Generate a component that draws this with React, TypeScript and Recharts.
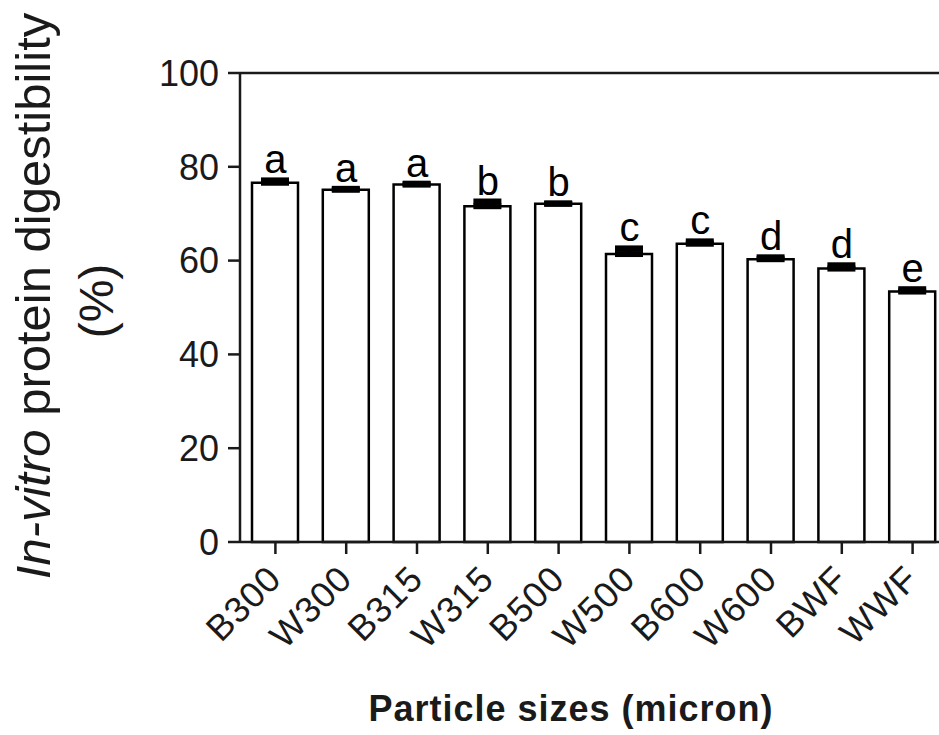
import React from 'react';
import { ComposedChart, Bar, Line, XAxis, YAxis, ErrorBar, LabelList, ReferenceLine, Label } from 'recharts';

const categories = ['B300', 'W300', 'B315', 'W315', 'B500', 'W500', 'B600', 'W600', 'BWF', 'WWF'];
const means = [76.6, 75.1, 76.2, 71.6, 72.1, 61.4, 63.6, 60.3, 58.3, 53.4];
const errUpper = [0.5, 0.2, 0.2, 1.0, 0.1, 1.2, 0.5, 0.4, 0.7, 0.5];
const errLower = [0, 0, 0, 0, 0, 0, 0, 0, 0, 0];
const letters = ['a', 'a', 'a', 'b', 'b', 'c', 'c', 'd', 'd', 'e'];
const yTicks = [0, 20, 40, 60, 80, 100];

const data = categories.map((c, i) => ({
  name: c,
  value: means[i],
  err: [errLower[i], errUpper[i]],
  top: means[i] + errUpper[i],
  letter: letters[i],
}));

const FONT = "Arial, 'Liberation Sans', sans-serif";
const INK = '#1a1a1a';

const XTick = (props: any) => {
  const { x, y, payload } = props;
  return (
    <g transform={`translate(${x},${y})`}>
      <text x={8} y={25} textAnchor="end" transform="rotate(-45, 8, 25)" fontFamily={FONT} fontSize={36} letterSpacing={1} fill={INK}>
        {payload.value}
      </text>
    </g>
  );
};

const renderLetter = (props: any) => {
  const { x, y, value } = props;
  return (
    <text x={x} y={y - 7} textAnchor="middle" fontFamily={FONT} fontSize={40} fill="#000">
      {value}
    </text>
  );
};

const YLabel = () => (
  <g>
    <text x={50} y={296} transform="rotate(-90, 50, 296)" textAnchor="middle" fontFamily={FONT} fontSize={49} fill={INK}>
      <tspan fontStyle="italic">In-vitro</tspan>
      <tspan> protein digestibility</tspan>
    </text>
    <text x={113} y={301} transform="rotate(-90, 113, 301)" textAnchor="middle" fontFamily={FONT} fontSize={48} fill={INK}>
      (%)
    </text>
  </g>
);

const XLabel = () => (
  <text x={571} y={721} textAnchor="middle" fontFamily={FONT} fontSize={36} letterSpacing={1} fontWeight="bold" fill={INK}>
    Particle sizes (micron)
  </text>
);

export default function App() {
  return (
    <div style={{ position: 'absolute', left: 0, top: 0, width: 939, height: 735, overflow: 'hidden', background: '#fff' }}>
      <ComposedChart width={960} height={735} data={data} margin={{ top: 73, right: 12, left: 0, bottom: 0 }} barCategoryGap={0}>
        <ReferenceLine y={100} stroke={INK} strokeWidth={2.5} />
        <XAxis
          dataKey="name"
          height={193}
          tickSize={12}
          tick={<XTick />}
          interval={0}
          axisLine={{ stroke: INK, strokeWidth: 2.5 }}
          tickLine={{ stroke: INK, strokeWidth: 2.5 }}
        >
          <Label content={<XLabel />} />
        </XAxis>
        <YAxis
          width={240}
          domain={[0, 100]}
          ticks={yTicks}
          tickSize={12}
          tickMargin={9}
          interval={0}
          axisLine={{ stroke: INK, strokeWidth: 2.5 }}
          tickLine={{ stroke: INK, strokeWidth: 2.5 }}
          tick={{ fontFamily: FONT, fontSize: 36, fill: INK }}
        >
          <Label content={<YLabel />} />
        </YAxis>
        <Bar dataKey="value" fill="#fff" stroke="#000" strokeWidth={2.5} barSize={46} isAnimationActive={false}>
          <ErrorBar dataKey="err" width={14} strokeWidth={6} stroke="#000" direction="y" isAnimationActive={false} />
        </Bar>
        <Line dataKey="top" stroke="none" dot={false} activeDot={false} isAnimationActive={false} legendType="none">
          <LabelList dataKey="letter" content={renderLetter} />
        </Line>
      </ComposedChart>
    </div>
  );
}
